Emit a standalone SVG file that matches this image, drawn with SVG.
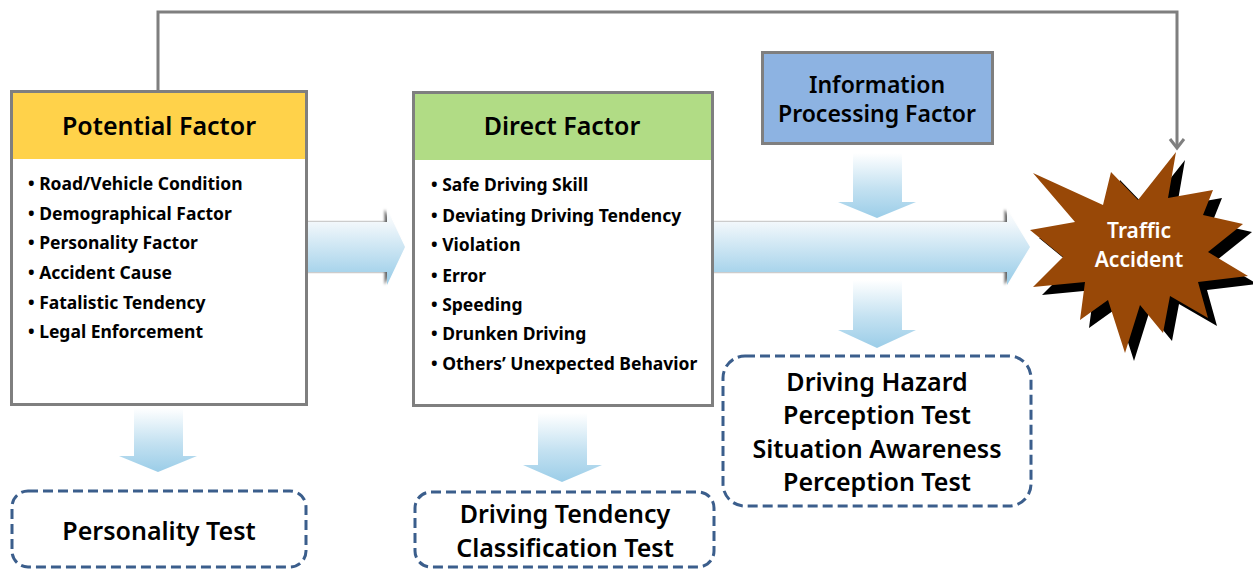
<svg xmlns="http://www.w3.org/2000/svg" width="1253" height="571" viewBox="0 0 1253 571">
  <style>
    .box { fill: #ffffff; stroke: #7f7f7f; stroke-width: 3; }
    .title { font-family: "Noto Sans", "DejaVu Sans", sans-serif; font-size: 25px; font-weight: 600; fill: #000; text-anchor: middle; }
    .item { font-family: "Noto Sans", "DejaVu Sans", sans-serif; font-size: 17.5px; font-weight: 700; fill: #000; }
    .test { fill: #ffffff; stroke: #3b5e8c; stroke-width: 3; stroke-dasharray: 10 5; }
    .testlabel { font-family: "Noto Sans", "DejaVu Sans", sans-serif; font-size: 25px; font-weight: 600; fill: #000; text-anchor: middle; }
    .link { fill: none; stroke: #7f7f7f; stroke-width: 3; }
    .star-text { font-family: "Noto Sans", "DejaVu Sans", sans-serif; font-size: 21px; font-weight: 600; fill: #fff; text-anchor: middle; }
  </style>
  <defs>
    <linearGradient id="flowH" gradientUnits="userSpaceOnUse" x1="0" y1="209" x2="0" y2="285">
      <stop offset="0" stop-color="#ffffff"/>
      <stop offset="0.18" stop-color="#f1f7fb"/>
      <stop offset="0.85" stop-color="#a6d3eb"/>
      <stop offset="1" stop-color="#9bcde8"/>
    </linearGradient>
    <linearGradient id="flowV" x1="0" y1="0" x2="0" y2="1">
      <stop offset="0" stop-color="#ffffff"/>
      <stop offset="0.55" stop-color="#c3e1f1"/>
      <stop offset="1" stop-color="#9bcde8"/>
    </linearGradient>
    <filter id="edgeShadow" x="-10%" y="-20%" width="120%" height="140%">
      <feDropShadow dx="-2.5" dy="0" stdDeviation="1.2" flood-color="#000" flood-opacity="0.6"/>
    </filter>
    <!-- open V arrowhead, drawn pointing along +x so orient="auto" turns it with the line -->
    <marker id="openHead" viewBox="0 0 20 20" refX="17" refY="10" markerWidth="20" markerHeight="20" markerUnits="userSpaceOnUse" orient="auto">
      <path d="M8,3 L17,10 L8,17" fill="none" stroke="#7f7f7f" stroke-width="3"/>
    </marker>
  </defs>

  <!-- connectors -->
  <g id="connectors">
    <path class="link" d="M158,90 V12 H1177 V148" marker-end="url(#openHead)"/>
    <!-- broad flow arrows -->
    <path d="M307,222 H387 V209 L405,247 L387,285 V272 H307 Z" fill="url(#flowH)" filter="url(#edgeShadow)"/>
    <path d="M713,222 H1007 V209 L1030,247 L1007,285 V272 H713 Z" fill="url(#flowH)" filter="url(#edgeShadow)"/>
    <!-- downward arrows to the tests -->
    <path d="M853,153 H902 V202 H916 L877,218 L838,202 H853 Z" fill="url(#flowV)"/>
    <path d="M853,280 H902 V330 H916 L877,348 L838,330 H853 Z" fill="url(#flowV)"/>
    <path d="M134,408 H183 V456 H197 L158,472 L119,456 H134 Z" fill="url(#flowV)"/>
    <path d="M538,413 H587 V465 H602 L562,482 L523,465 H538 Z" fill="url(#flowV)"/>
  </g>

  <!-- Potential Factor -->
  <g id="potential-factor">
    <rect class="box" x="11.5" y="91.5" width="295" height="313"/>
    <rect x="13" y="93" width="292" height="66" fill="#ffd24a"/>
    <text class="title" x="159" y="135">Potential Factor</text>
    <text class="item" x="28" y="190">• Road/Vehicle Condition</text>
    <text class="item" x="28" y="220">• Demographical Factor</text>
    <text class="item" x="28" y="249">• Personality Factor</text>
    <text class="item" x="28" y="279">• Accident Cause</text>
    <text class="item" x="28" y="309">• Fatalistic Tendency</text>
    <text class="item" x="28" y="338">• Legal Enforcement</text>
  </g>

  <!-- Direct Factor -->
  <g id="direct-factor">
    <rect class="box" x="413.5" y="92.5" width="299" height="313"/>
    <rect x="415" y="94" width="296" height="66" fill="#b1dc85"/>
    <text class="title" x="562" y="135">Direct Factor</text>
    <text class="item" x="431" y="191">• Safe Driving Skill</text>
    <text class="item" x="431" y="222">• Deviating Driving Tendency</text>
    <text class="item" x="431" y="251">• Violation</text>
    <text class="item" x="431" y="282">• Error</text>
    <text class="item" x="431" y="311">• Speeding</text>
    <text class="item" x="431" y="340">• Drunken Driving</text>
    <text class="item" x="431" y="370">• Others’ Unexpected Behavior</text>
  </g>

  <!-- Information Processing Factor -->
  <g id="information-processing-factor">
    <rect x="762.5" y="52.5" width="230" height="91" fill="#8db3e2" stroke="#7f7f7f" stroke-width="3"/>
    <text class="title" x="877" y="93" style="font-size:23px">Information</text>
    <text class="title" x="877" y="122" style="font-size:23px">Processing Factor</text>
  </g>

  <!-- Traffic Accident -->
  <g id="traffic-accident">
    <polygon transform="translate(9,8)" fill="#000" points="1176,152 1168,198 1213,190 1203,215 1243,224 1208,252 1248,276 1198,282 1208,318 1170,296 1163,333 1140,305 1125,353 1108,300 1080,320 1085,282 1033,287 1063,257 1030,230 1075,222 1033,173 1103,205 1111,172 1138,200"/>
    <polygon fill="#984807" points="1176,152 1168,198 1213,190 1203,215 1243,224 1208,252 1248,276 1198,282 1208,318 1170,296 1163,333 1140,305 1125,353 1108,300 1080,320 1085,282 1033,287 1063,257 1030,230 1075,222 1033,173 1103,205 1111,172 1138,200"/>
    <text class="star-text" x="1139" y="238">Traffic</text>
    <text class="star-text" x="1139" y="267">Accident</text>
  </g>

  <!-- Personality Test -->
  <g id="personality-test">
    <rect class="test" x="12" y="491" width="294" height="76" rx="16"/>
    <text class="testlabel" x="159" y="540">Personality Test</text>
  </g>

  <!-- Driving Tendency Classification Test -->
  <g id="driving-tendency-test">
    <rect class="test" x="415" y="492" width="299" height="75" rx="16"/>
    <text class="testlabel" x="565" y="523">Driving Tendency</text>
    <text class="testlabel" x="565" y="557">Classification Test</text>
  </g>

  <!-- Driving Hazard / Situation Awareness Perception Test -->
  <g id="perception-test">
    <rect class="test" x="723" y="356" width="308" height="150" rx="22"/>
    <text class="testlabel" x="877" y="391">Driving Hazard</text>
    <text class="testlabel" x="877" y="424">Perception Test</text>
    <text class="testlabel" x="877" y="458">Situation Awareness</text>
    <text class="testlabel" x="877" y="491">Perception Test</text>
  </g>
</svg>
